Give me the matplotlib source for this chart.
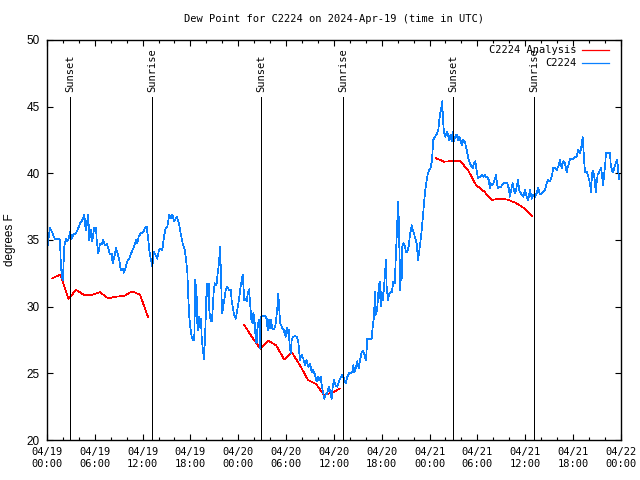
import numpy as np
import matplotlib
matplotlib.use("Agg")
import matplotlib.pyplot as plt
import matplotlib.dates as mdates
from datetime import datetime, timedelta

start = datetime(2024, 4, 19, 0, 0)
end = datetime(2024, 4, 22, 0, 0)

# observed dew point (hours after 04/19 00:00 UTC, degrees F)
obs_hours = [0.0, 0.06, 0.38, 0.63, 1.0, 1.42, 1.63, 1.72, 1.84, 1.97, 2.05, 2.17, 2.38, 2.55,
             2.72, 2.89, 3.1, 3.3, 3.64, 3.93, 4.14, 4.43, 4.68, 4.86, 5.02, 5.18, 5.31, 5.52,
             5.68, 5.93, 6.15, 6.24, 6.44, 6.65, 6.86, 7.06, 7.28, 7.49, 7.69, 7.9, 8.12, 8.24,
             8.41, 8.66, 8.87, 9.07, 9.25, 9.5, 9.66, 9.82, 10.08, 10.33, 10.63, 10.92, 11.17,
             11.33, 11.51, 11.76, 12.08, 12.3, 12.51, 12.71, 12.84, 13.05, 13.21, 13.43, 13.64,
             13.84, 14.05, 14.27, 14.47, 14.68, 14.89, 15.09, 15.35, 15.56, 15.72, 15.97, 16.27,
             16.56, 16.69, 17.03, 17.31, 17.44, 17.6, 17.73, 17.85, 18.03, 18.16, 18.36, 18.48,
             18.61, 18.78, 18.86, 18.98, 19.07, 19.2, 19.32, 19.41, 19.54, 19.7, 19.82, 19.95,
             20.04, 20.16, 20.29, 20.36, 20.54, 20.7, 20.79, 20.92, 21.04, 21.17, 21.29, 21.42,
             21.58, 21.71, 21.79, 21.92, 22.0, 22.12, 22.25, 22.42, 22.62, 22.84, 23.05, 23.17,
             23.3, 23.46, 23.68, 23.88, 24.09, 24.3, 24.43, 24.55, 24.63, 24.76, 24.93, 25.06,
             25.18, 25.35, 25.51, 25.63, 25.81, 25.88, 26.01, 26.14, 26.22, 26.31, 26.39, 26.51,
             26.64, 26.73, 26.81, 27.06, 27.35, 27.57, 27.69, 27.82, 27.98, 28.11, 28.27, 28.48,
             28.64, 28.82, 28.95, 29.02, 29.15, 29.27, 29.4, 29.52, 29.7, 29.82, 29.95, 30.08,
             30.2, 30.33, 30.45, 30.58, 30.7, 30.9, 31.12, 31.33, 31.53, 31.66, 31.74, 31.96,
             32.16, 32.37, 32.58, 32.79, 33.0, 33.21, 33.41, 33.63, 33.84, 33.96, 34.17, 34.34,
             34.5, 34.67, 34.79, 34.97, 35.17, 35.35, 35.51, 35.72, 35.85, 36.01, 36.22, 36.42,
             36.64, 36.89, 37.05, 37.26, 37.48, 37.68, 37.89, 38.1, 38.31, 38.43, 38.56, 38.77,
             38.93, 39.11, 39.27, 39.48, 39.68, 39.86, 40.03, 40.19, 40.44, 40.74, 40.87, 41.03,
             41.16, 41.28, 41.44, 41.57, 41.74, 41.87, 41.99, 42.12, 42.28, 42.45, 42.53, 42.62,
             42.79, 42.95, 43.13, 43.29, 43.45, 43.63, 43.79, 43.95, 44.04, 44.17, 44.29, 44.38,
             44.5, 44.58, 44.71, 44.88, 45.04, 45.21, 45.38, 45.55, 45.76, 45.88, 46.05, 46.21,
             46.39, 46.55, 46.68, 46.8, 46.96, 47.09, 47.21, 47.34, 47.47, 47.64, 47.8, 47.97,
             48.14, 48.31, 48.47, 48.68, 48.9, 49.1, 49.22, 49.35, 49.47, 49.6, 49.69, 49.81,
             49.98, 50.15, 50.31, 50.48, 50.65, 50.78, 50.9, 51.07, 51.23, 51.4, 51.57, 51.74,
             51.91, 52.07, 52.24, 52.42, 52.58, 52.74, 52.92, 53.09, 53.25, 53.43, 53.59, 53.74,
             53.91, 54.08, 54.24, 54.42, 54.58, 54.74, 54.92, 55.08, 55.24, 55.42, 55.58, 55.71,
             55.83, 56.0, 56.17, 56.34, 56.46, 56.59, 56.75, 56.93, 57.09, 57.25, 57.42, 57.59,
             57.75, 57.93, 58.09, 58.25, 58.43, 58.59, 58.76, 58.93, 59.1, 59.25, 59.35, 59.56,
             59.76, 59.97, 60.19, 60.39, 60.6, 60.82, 61.02, 61.23, 61.44, 61.64, 61.86, 62.07,
             62.27, 62.48, 62.7, 62.9, 63.11, 63.33, 63.53, 63.74, 63.95, 64.15, 64.37, 64.58,
             64.78, 64.99, 65.21, 65.41, 65.62, 65.83, 66.04, 66.25, 66.46, 66.66, 66.88, 67.09,
             67.21, 67.38, 67.5, 67.72, 67.92, 68.13, 68.26, 68.39, 68.55, 68.72, 68.85, 68.98,
             69.1, 69.23, 69.39, 69.51, 69.64, 69.77, 69.93, 70.05, 70.14, 70.31, 70.48, 70.64,
             70.73, 70.89, 71.06, 71.23, 71.39, 71.56, 71.68, 71.81]
obs_dewpt = [34.9, 34.5, 35.9, 35.6, 35.05, 35.05, 35.05, 33.5, 32.4, 32.0, 32.75, 34.5, 35.1, 34.9,
             35.1, 35.6, 35.1, 35.4, 35.5, 35.9, 36.25, 36.5, 36.9, 35.75, 36.25, 36.9, 35.0, 35.75,
             34.9, 35.9, 35.9, 35.0, 34.0, 34.75, 34.7, 35.0, 34.6, 34.7, 34.4, 33.9, 34.0, 33.25,
             33.6, 34.4, 34.0, 33.5, 32.75, 32.85, 32.55, 32.85, 33.4, 33.6, 34.1, 34.5, 35.0,
             34.75, 35.25, 35.5, 35.6, 35.9, 36.0, 35.0, 34.25, 33.5, 33.0, 34.1, 33.85,
             33.6, 34.25, 34.35, 34.25, 35.25, 35.9, 36.0, 36.9, 36.65, 36.9, 36.4, 36.75,
             36.25, 35.75, 34.75, 34.25, 33.5, 32.75, 30.75, 29.25, 28.25, 27.75, 27.5, 27.5,
             32.0, 30.75, 28.75, 28.25, 29.25, 28.5, 29.1, 27.75, 26.9, 26.1, 27.5, 29.75,
             31.75, 30.75, 31.75, 29.75, 28.9, 28.9, 29.75, 31.1, 31.75, 31.6, 31.75, 32.5,
             33.25, 34.5, 33.25, 30.5, 29.5, 30.0, 30.6, 31.25, 31.5, 31.25, 31.25, 30.5,
             30.0, 29.4, 29.1, 29.75, 30.5, 31.5, 32.0, 32.4, 31.75, 30.5, 30.6, 30.4,
             30.9, 31.3, 30.0, 29.1, 28.75, 29.5, 29.25, 28.0, 27.4, 27.3, 28.25, 28.75,
             29.0, 26.9, 29.25, 29.3, 29.3, 29.1, 28.25, 29.0, 28.4, 29.0, 28.4, 28.3,
             28.5, 29.4, 30.25, 31.0, 29.75, 28.75, 28.6, 28.4, 28.25, 28.0, 27.75, 28.4,
             28.0, 28.25, 27.1, 26.5, 27.5, 27.75, 27.8, 27.75, 27.4, 26.5, 26.0, 26.4,
             26.1, 25.6, 26.0, 25.5, 25.75, 25.1, 25.25, 24.9, 24.4, 24.75, 24.5, 24.75,
             24.0, 23.5, 23.1, 23.4, 23.5, 24.0, 23.75, 23.1, 24.0, 24.5, 24.1, 24.0,
             24.4, 24.75, 24.9, 24.6, 24.25, 24.75, 25.0, 25.0, 25.1, 25.6, 25.1, 25.4,
             25.9, 25.4, 25.9, 26.6, 26.7, 26.3, 26.0, 27.6, 27.6, 27.6, 28.5, 29.25,
             31.1, 29.4, 29.9, 31.0, 31.9, 30.0, 31.1, 30.5, 31.35, 32.75, 33.5, 31.5,
             30.5, 31.0, 31.1, 31.1, 31.9, 31.75, 34.0, 36.25, 37.9, 36.25, 31.25, 33.5,
             32.0, 34.5, 34.75, 34.6, 34.1, 34.1, 34.5, 35.4, 36.1, 35.75, 35.5, 35.1,
             34.75, 33.5, 34.0, 34.6, 35.4, 36.25, 37.0, 38.0, 38.75, 39.5, 40.0, 40.25,
             40.4, 41.0, 42.5, 42.75, 42.9, 43.25, 44.0, 44.5, 44.9, 45.4, 44.0, 43.1,
             42.75, 43.1, 42.9, 42.5, 42.9, 42.4, 43.1, 42.4, 42.75, 42.9, 42.5, 42.75,
             42.4, 42.1, 42.5, 42.4, 42.0, 41.5, 41.0, 40.75, 40.5, 40.4, 40.75, 40.9,
             40.25, 39.6, 39.75, 39.75, 39.9, 39.75, 39.9, 39.75, 39.75, 39.5, 38.9, 39.25,
             39.1, 39.25, 39.5, 39.9, 39.25, 38.9, 39.0, 38.95, 39.1, 39.25, 39.25, 39.25,
             39.25, 38.9, 38.25, 38.75, 39.25, 38.75, 38.5, 39.0, 39.5, 38.75, 38.6, 38.4,
             38.25, 38.75, 38.25, 38.0, 38.75, 38.1, 38.4, 38.25, 38.5, 38.9, 38.4, 38.5,
             38.6, 38.75, 39.25, 39.5, 39.4, 39.75, 40.4, 40.4, 40.25, 40.5, 41.0, 40.4,
             40.9, 40.75, 40.1, 40.6, 41.05, 41.05, 41.1, 41.25, 41.25, 41.75, 41.5, 42.1,
             42.75, 41.25, 40.1, 40.1, 39.75, 39.25, 38.6, 40.0, 40.2, 39.5, 38.6, 39.4,
             39.9, 40.0, 40.25, 40.4, 39.9, 39.1, 40.0, 40.75, 41.55, 41.55, 41.55, 41.5,
             40.75, 40.2, 40.1, 40.5, 40.8, 41.0, 40.1, 39.6]

# analysis runs: hourly values in three 12-hour windows
ana_start_hours = [0.67, 24.75, 48.83]
ana_seg1 = [32.13, 32.4, 30.6, 31.25, 30.87, 30.9, 31.08, 30.62, 30.75, 30.8, 31.15, 30.9, 29.25]
ana_seg2 = [28.62, 27.7, 26.85, 27.45, 27.1, 26.05, 26.55, 25.6, 24.5, 24.2, 23.4, 23.55, 23.85]
ana_seg3 = [41.13, 40.87, 40.92, 40.92, 40.25, 39.12, 38.65, 38.0, 38.1, 38.02, 37.78, 37.4, 36.8]

sun_events = ["Sunset", "Sunrise", "Sunset", "Sunrise", "Sunset", "Sunrise"]
sun_times = ["2024-04-19 02:54", "2024-04-19 13:13", "2024-04-20 02:55",
             "2024-04-20 13:11", "2024-04-21 02:57", "2024-04-21 13:09"]

mono = "DejaVu Sans Mono"
sans = "Liberation Sans"

obs_t = [start + timedelta(hours=h) for h in obs_hours]
ana_t, ana_v = [], []
for h0, seg in zip(ana_start_hours, [ana_seg1, ana_seg2, ana_seg3]):
    for i, v in enumerate(seg):
        ana_t.append(start + timedelta(hours=h0 + i))
        ana_v.append(v)
    ana_t.append(start + timedelta(hours=h0 + len(seg)))
    ana_v.append(np.nan)

fig = plt.figure(figsize=(6.4, 4.8), dpi=100)
ax = fig.add_axes([0.0734, 0.0833, 0.8966, 0.8334])

# gnuplot-like crisp 1px lines
ax.plot(ana_t, ana_v, color="#ff0000", lw=0.5, antialiased=False, label="C2224 Analysis")
ax.plot(obs_t, obs_dewpt, color="#0a80ff", lw=0.5, antialiased=False, label="C2224")

for name, ts in zip(sun_events, sun_times):
    t = datetime.strptime(ts, "%Y-%m-%d %H:%M")
    ax.plot([t, t], [20, 45.7], color="black", lw=0.6, antialiased=False)
    ax.text(t, 46.1, name, rotation=90, ha="center", va="bottom",
            family=mono, fontsize=7.5)

ax.set_xlim(start, end)
ax.set_ylim(20, 50)
ax.set_yticks(np.arange(20, 51, 5))
ax.xaxis.set_major_locator(mdates.HourLocator(byhour=range(0, 24, 6)))
ax.xaxis.set_minor_locator(mdates.HourLocator(byhour=range(0, 24, 2)))
ax.xaxis.set_major_formatter(mdates.DateFormatter("%m/%d\n%H:%M"))

ax.tick_params(which="both", direction="in", top=True, right=True, colors="black")
ax.tick_params(which="major", length=4, width=0.8)
ax.tick_params(which="minor", length=2, width=0.8)
ax.tick_params(axis="x", pad=5)
ax.tick_params(axis="y", pad=5)
for lbl in ax.get_xticklabels():
    lbl.set_family(mono)
    lbl.set_fontsize(7.5)
for lbl in ax.get_yticklabels():
    lbl.set_family(sans)
    lbl.set_fontsize(8.5)
for s in ax.spines.values():
    s.set_linewidth(1.0)

ax.set_ylabel("degrees F", family=sans, fontsize=8.5, labelpad=8)
ax.set_title("Dew Point for C2224 on 2024-Apr-19 (time in UTC)", family=mono,
             fontsize=7.5, pad=13)

leg = ax.legend(loc="upper right", bbox_to_anchor=(0.988, 1.0), frameon=False,
                markerfirst=False, prop={"family": mono, "size": 7.5},
                handlelength=2.6, handletextpad=0.5, labelspacing=0.3,
                borderaxespad=0.2, borderpad=0.3)
for line in leg.get_lines():
    line.set_linewidth(0.9)
    line.set_antialiased(True)

fig.savefig("out.png", dpi=100)
